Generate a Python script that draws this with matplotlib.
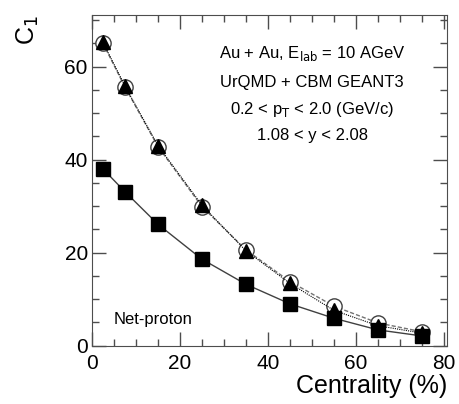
import numpy as np
import matplotlib.pyplot as plt
from matplotlib.ticker import MultipleLocator

plt.rcParams['font.family'] = ['Liberation Sans', 'DejaVu Sans']

# centrality bin centres (%)
centrality = [2.5, 7.5, 15, 25, 35, 45, 55, 65, 75]
# C1 of net-proton
c1_squares = [38.0, 33.1, 26.1, 18.6, 13.2, 9.0, 5.9, 3.4, 2.1]
c1_circles = [65.0, 55.6, 42.8, 29.9, 20.6, 13.8, 8.5, 4.9, 3.0]
c1_triangles = [65.2, 55.8, 43.0, 30.2, 20.4, 13.4, 7.6, 4.3, 2.7]

fig = plt.figure(figsize=(4.59, 4.04), dpi=100)
ax = fig.add_axes([92 / 459, 1 - 345.7 / 404, (447 - 92) / 459, (345.7 - 15) / 404])

ax.plot(centrality, c1_circles, color='0.45', lw=1, ls=(0, (3, 1.5)), marker='o',
        ms=11, mfc='white', mec='0.25', mew=1, zorder=2)
ax.plot(centrality, c1_triangles, color='black', lw=0.8, ls=(0, (1, 1)), marker='^',
        ms=10, mfc='black', mec='black', zorder=3)
ax.plot(centrality, c1_squares, color='0.25', lw=1, ls='-', marker='s',
        ms=10, mfc='black', mec='black', zorder=3)

ax.set_xlim(0, 80.7)
ax.set_ylim(0, 71.1)
ax.xaxis.set_major_locator(MultipleLocator(20))
ax.xaxis.set_minor_locator(MultipleLocator(5))
ax.yaxis.set_major_locator(MultipleLocator(20))
ax.yaxis.set_minor_locator(MultipleLocator(5))
ax.tick_params(which='both', direction='in', top=True, right=True, width=1, color='0.3')
ax.tick_params(which='major', length=10, labelsize=15)
ax.tick_params(axis='x', which='major', pad=6)
ax.tick_params(axis='y', which='major', pad=3)
ax.tick_params(which='minor', length=5)
for s in ax.spines.values():
    s.set_color('0.3')

ax.set_xlabel('Centrality (%)', fontsize=18, loc='right', labelpad=1)
ax.set_ylabel('C$_1$', fontsize=18)
ax.yaxis.set_label_coords(-0.145, 0.955)

ax.text(0.62, 0.885, 'Au + Au, E$_{\\mathrm{lab}}$ = 10 AGeV', transform=ax.transAxes,
        ha='center', va='center', fontsize=12)
ax.text(0.62, 0.795, 'UrQMD + CBM GEANT3', transform=ax.transAxes,
        ha='center', va='center', fontsize=12)
ax.text(0.62, 0.715, '0.2 < p$_{\\mathrm{T}}$ < 2.0 (GeV/c)', transform=ax.transAxes,
        ha='center', va='center', fontsize=12)
ax.text(0.62, 0.635, '1.08 < y < 2.08', transform=ax.transAxes,
        ha='center', va='center', fontsize=12)
ax.text(0.062, 0.078, 'Net-proton', transform=ax.transAxes,
        ha='left', va='center', fontsize=12)

plt.savefig('out.png', dpi=100)
